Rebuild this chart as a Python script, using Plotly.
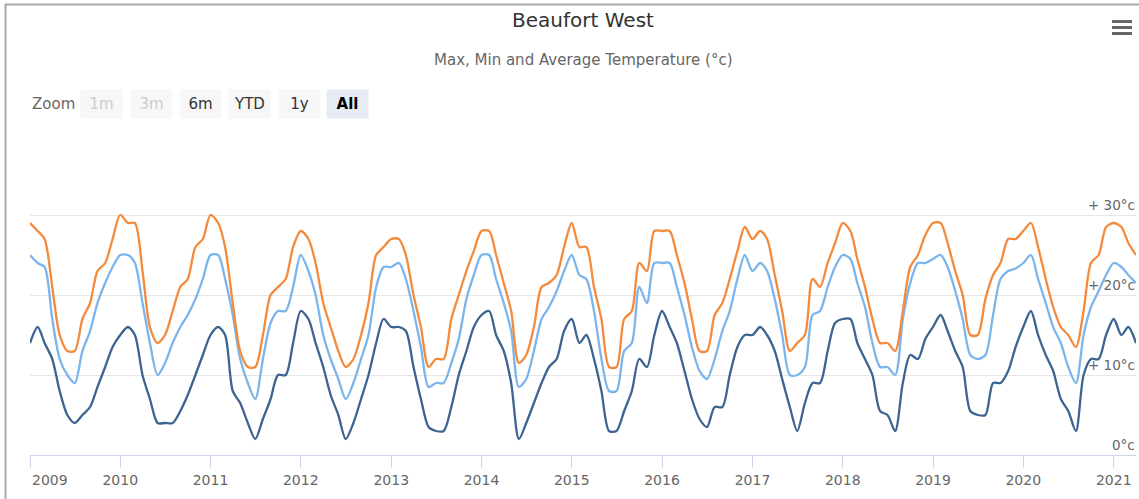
import plotly.graph_objects as go
import pandas as pd

# ---------------- data (monthly, Jan 2009 .. Apr 2021) ----------------
months = pd.date_range("2009-01-01", periods=148, freq="MS")

max_temp = [
    29, 28, 27, 21, 15, 13, 13, 17, 19, 23, 24, 27,          # 2009
    30, 29, 29, 23, 16, 14, 15, 18, 21, 22, 26, 27,          # 2010
    30, 29, 26, 19, 13, 11, 11, 15, 20, 21, 22, 26,          # 2011
    28, 27, 24, 19, 16, 13, 11, 12, 15, 19, 25, 26,          # 2012
    27, 27, 25, 20, 16, 11, 12, 12, 17, 20, 23, 25.5,        # 2013
    28, 28, 25, 21.5, 18, 11.5, 12.5, 16, 21, 21.5, 22.5, 26,  # 2014
    29, 26, 26, 21, 17, 11, 11, 17, 18, 24, 23, 28,          # 2015
    28, 28, 25, 21.5, 17, 13, 13, 17.5, 19, 22, 25.5, 28.5,  # 2016
    27, 28, 27, 22.5, 18, 13, 14, 15, 22, 21, 24, 26.5,      # 2017
    29, 28, 24.5, 21, 17, 14, 14, 13, 18, 23.5, 25, 27.5,    # 2018
    29, 29, 26.5, 23, 20, 15, 15, 19.5, 22.5, 24, 27, 27,    # 2019
    28, 29, 26, 22, 18.5, 16, 15, 13.5, 18, 24, 25, 28.5,    # 2020
    29, 28.5, 26.5, 25,                                      # 2021
]

avg_temp = [
    25, 24, 23.5, 17, 12, 10, 9, 13, 15.5, 19, 21.5, 23.5,
    25, 25, 24, 19, 14, 10, 11.5, 14, 16, 17.5, 19.5, 22,
    25, 25, 22, 17.5, 12, 9, 7, 12, 16.5, 18, 18, 21,
    25, 23, 20, 15, 12, 9.5, 7, 9, 12, 15, 21, 23.5,
    23.5, 24, 22, 18, 13.5, 8.5, 9, 9, 11.5, 14.5, 19.5, 22.5,
    25, 25, 22, 19, 15.5, 8.5, 9.5, 13, 17, 18.5, 20.5, 23,
    25, 22.5, 22, 18, 12, 8, 8, 13, 14, 21, 19, 24,
    24, 24, 21, 17.5, 13.5, 10.5, 9.5, 12, 15.5, 18, 22, 25,
    23, 24, 23, 19.5, 15, 10, 10, 11, 17.5, 18, 21, 23.5,
    25, 24.5, 21.5, 18.5, 14, 11, 11, 10, 17, 21.5, 24, 24,
    24.5, 25, 23.5, 20.5, 17, 12.5, 12, 12.5, 17.5, 22, 23, 23.3,
    24, 25, 22, 19, 16, 14, 11, 9, 15, 18.5, 20.5, 22.5,
    24, 23.5, 22.5, 21.5,
]

min_temp = [
    14, 16, 14, 12, 8, 5, 4, 5, 6, 8.5, 11, 13.5,
    15, 16, 15, 10, 7, 4, 4, 4, 5.5, 7.5, 10, 12.5,
    15, 16, 15, 8, 6.5, 4, 2, 4.5, 7, 10, 10, 14,
    18, 17, 14, 11, 7.5, 5, 2, 4, 7, 10, 14, 17,
    16, 16, 15.5, 11, 7, 3.5, 3, 3, 6, 10, 13, 16,
    17.5, 18, 15, 13, 9, 2, 4, 6.5, 9, 11, 12, 15.5,
    17, 14, 15, 12, 8, 3, 3, 5.5, 8, 12, 11, 15,
    18, 16, 14, 10.5, 7, 4.5, 3.5, 6, 6, 10, 13.5, 15,
    15, 16, 15, 13, 9.5, 6, 3, 6.5, 9, 9, 13, 16.5,
    17, 17, 14, 12, 10, 5.5, 5, 3, 9, 12.5, 12, 14.5,
    16, 17.5, 15.5, 13, 11, 5.5, 5, 5, 9, 9, 10.5, 13.5,
    16, 18, 15, 12.5, 10.5, 7, 5.5, 3, 10, 12, 12, 15,
    17, 15, 16, 14,
]

year_ticks = [f"{y}-01-01" for y in range(2009, 2022)]
year_labels = [str(y) for y in range(2009, 2022)]

y_ticks = [0, 10, 20, 30, 40]
y_labels = ["0°c", "+ 10°c", "+ 20°c", "+ 30°c", ""]

zoom_buttons = ["1m", "3m", "6m", "YTD", "1y", "All"]

# ---------------- layout geometry ----------------
W, H = 1139, 499
ML, MR, MT, MB = 30, 3, 135, 44
PW = W - ML - MR
PH = H - MT - MB
FONT = "DejaVu Sans"
AXIS_FONT = dict(family=FONT, size=14, color="#666666")


def px(x):
    return (x - ML) / PW


def py(y):
    return (H - MB - y) / PH


fig = go.Figure()

series = [
    ("Min", min_temp, "#3d6491"),
    ("Average", avg_temp, "#7cb5ec"),
    ("Max", max_temp, "#f38a3c"),
]
for name, vals, col in series:
    fig.add_trace(go.Scatter(
        x=months, y=vals, name=name, mode="lines",
        line=dict(color=col, width=2.3, shape="spline", smoothing=0.8),
        hoverinfo="skip",
    ))

annotations = []
annotations.append(dict(
    text="Max, Min and Average Temperature (°c)", x=px(583), y=py(60),
    xref="paper", yref="paper", showarrow=False, xanchor="center", yanchor="middle",
    font=dict(family=FONT, size=15, color="#666666"),
))
annotations.append(dict(
    text="Zoom", x=px(30), y=py(104), xref="paper", yref="paper", showarrow=False,
    xanchor="left", yanchor="middle", font=dict(family=FONT, size=15, color="#666666"),
))
btn_centers = [101, 151, 200, 249, 299, 347]
btn_styles = ["dis", "dis", "norm", "norm", "norm", "sel"]
for lab, cx, st in zip(zoom_buttons, btn_centers, btn_styles):
    if st == "dis":
        fc, bg, txt = "#cccccc", "#f7f7f7", lab
    elif st == "sel":
        fc, bg, txt = "#000000", "#e6ebf5", f"<b>{lab}</b>"
    else:
        fc, bg, txt = "#333333", "#f7f7f7", lab
    annotations.append(dict(
        text=txt, x=px(cx), y=py(104), xref="paper", yref="paper", showarrow=False,
        xanchor="center", yanchor="middle", width=41, height=28, borderpad=0,
        bgcolor=bg, font=dict(family=FONT, size=15, color=fc), align="center", valign="middle",
    ))

# y-axis labels drawn inside the plot, right-aligned just above each gridline
for val, lab in zip(y_ticks, y_labels):
    if not lab:
        continue
    annotations.append(dict(
        text=lab, x=1, y=val, xref="paper", yref="y", showarrow=False,
        xanchor="right", yanchor="bottom", borderpad=1, xshift=1,
        font=dict(family=FONT, size=13.5, color="#666666"),
    ))

# first x label is left-aligned on its tick (kept inside the chart)
annotations.append(dict(
    text=year_labels[0], x=year_ticks[0], y=0, xref="x", yref="paper", showarrow=False,
    xanchor="left", yanchor="top", yshift=-15, xshift=0, font=AXIS_FONT,
))
tick_text = [""] + year_labels[1:]

shapes = []
shapes.append(dict(type="line", xref="paper", yref="paper", x0=px(5), x1=px(1139), y0=py(4.5), y1=py(4.5),
                   line=dict(color="#a8a8a8", width=2)))
shapes.append(dict(type="line", xref="paper", yref="paper", x0=px(5.5), x1=px(5.5), y0=py(4), y1=py(499),
                   line=dict(color="#a8a8a8", width=2)))
for yy in (21.5, 27.5, 33.5):
    shapes.append(dict(type="line", xref="paper", yref="paper", x0=px(1112), x1=px(1132), y0=py(yy), y1=py(yy),
                       line=dict(color="#666666", width=3)))

fig.update_layout(
    width=W, height=H,
    margin=dict(l=ML, r=MR, t=MT, b=MB, autoexpand=False),
    paper_bgcolor="white", plot_bgcolor="white",
    showlegend=False,
    font=dict(family=FONT, color="#666666"),
    title=dict(text="Beaufort West", x=583 / W, xref="container", xanchor="center",
               y=1 - 20 / H, yref="container", yanchor="middle",
               font=dict(family=FONT, size=20, color="#333333")),
    annotations=annotations,
    shapes=shapes,
    xaxis=dict(
        type="date", range=[months[0], months[-1]], automargin=False,
        tickmode="array", tickvals=year_ticks, ticktext=tick_text,
        ticks="outside", ticklen=12, tickcolor="#ccd6eb", tickwidth=1,
        showline=True, linecolor="#ccd6eb", linewidth=1,
        showgrid=False, zeroline=False, ticklabeloverflow="allow",
        tickfont=AXIS_FONT,
    ),
    yaxis=dict(
        range=[0, 40], side="right", tickmode="array", tickvals=y_ticks,
        showticklabels=False, automargin=False,
        showgrid=True, gridcolor="#e6e6e6", gridwidth=1,
        zeroline=False, showline=False, ticks="",
    ),
)

fig.write_html(
    "out.html",
    config={"displayModeBar": False},
    post_script="document.body.style.margin='0';document.body.style.padding='0';",
)
